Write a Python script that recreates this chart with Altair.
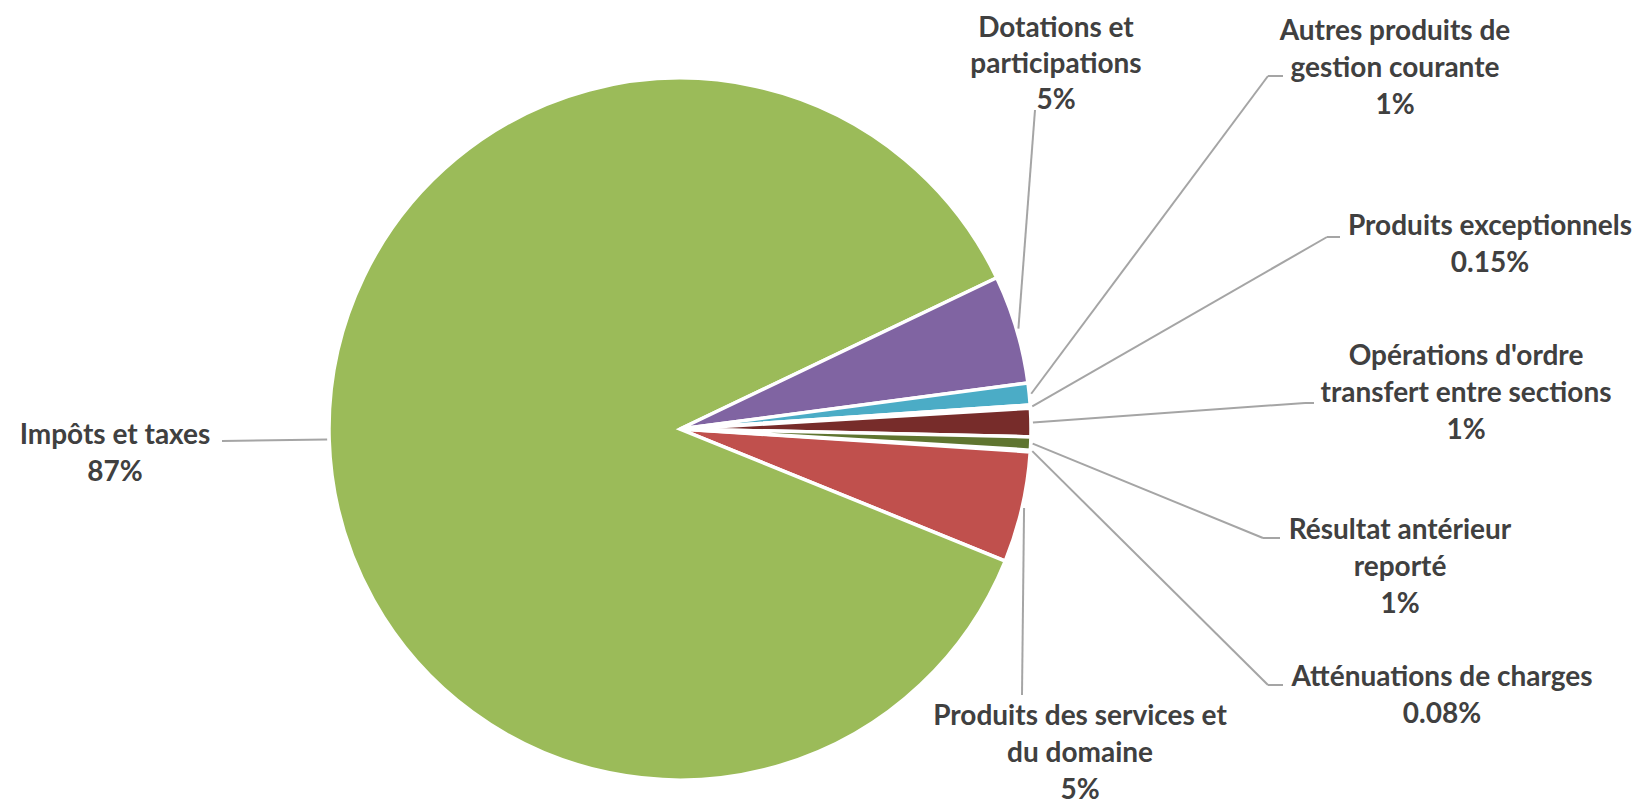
import math
import altair as alt
import pandas as pd

# ---------------- data ----------------
categories = [
    "Atténuations de charges",
    "Produits des services et du domaine",
    "Impôts et taxes",
    "Dotations et participations",
    "Autres produits de gestion courante",
    "Produits exceptionnels",
    "Opérations d'ordre transfert entre sections",
    "Résultat antérieur reporté",
]
values = [0.08, 5.1, 86.77, 5.0, 1.0, 0.15, 1.3, 0.6]
pct_labels = ["0.08%", "5%", "87%", "5%", "1%", "0.15%", "1%", "1%"]
label_lines = [
    ["Atténuations de charges"],
    ["Produits des services et", "du domaine"],
    ["Impôts et taxes"],
    ["Dotations et", "participations"],
    ["Autres produits de", "gestion courante"],
    ["Produits exceptionnels"],
    ["Opérations d'ordre", "transfert entre sections"],
    ["Résultat antérieur", "reporté"],
]
colors = ["#4F81BD", "#C0504D", "#9BBB59", "#8064A2", "#4BACC6", "#F79646", "#772C2A", "#5F7530"]

# ---------------- layout (page pixels) ----------------
W, H = 1630, 787
OFF = 8
CX, CY = 680, 429
R = 351
R_LINE = 353
START_DEG = 93.45
label_cx = [1442, 1080, 115, 1056, 1395, 1490, 1466, 1400]
label_y0 = [678, 717, 436, 29, 32, 227, 357, 531]
label_lh = [37, 37, 37, 36, 37, 37, 37, 37]
elbow_x = [1268, 1022, 222, 1035, 1268, 1327, 1305, 1263]
elbow_y = [685, 695, 441, 110, 76, 237, 403, 538]
tick_x = [1283, 1022, 222, 1035, 1283, 1340, 1314, 1280]
tick_y = [685, 695, 441, 110, 76, 237, 403, 538]

# ---------------- tables ----------------
pie_df = pd.DataFrame({"category": categories, "value": values, "idx": list(range(len(values)))})

total = sum(values)
start = math.radians(START_DEG)
seg_rows, txt_rows = [], []
cum = 0.0
for i, v in enumerate(values):
    mid = start + 2 * math.pi * (cum + v / 2) / total
    cum += v
    rx = CX + R_LINE * math.sin(mid)
    ry = CY - R_LINE * math.cos(mid)
    seg_rows.append({"x": rx, "y": ry, "x2": elbow_x[i], "y2": elbow_y[i]})
    if (tick_x[i], tick_y[i]) != (elbow_x[i], elbow_y[i]):
        seg_rows.append({"x": elbow_x[i], "y": elbow_y[i], "x2": tick_x[i], "y2": tick_y[i]})
    lines = label_lines[i] + [pct_labels[i]]
    for k, t in enumerate(lines):
        txt_rows.append({"text": t, "x": label_cx[i], "y": label_y0[i] + k * label_lh[i]})
seg_df = pd.DataFrame(seg_rows)
txt_df = pd.DataFrame(txt_rows)

xs = alt.Scale(domain=[OFF, OFF + W], nice=False, zero=False)
ys = alt.Scale(domain=[OFF, OFF + H], nice=False, zero=False, reverse=True)

pie = alt.Chart(pie_df).mark_arc(radius=R, stroke="white", strokeWidth=3.5).encode(
    theta=alt.Theta("value:Q", stack=True,
                    scale=alt.Scale(range=[start, start + 2 * math.pi])),
    color=alt.Color("category:N", scale=alt.Scale(domain=categories, range=colors), legend=None),
    order=alt.Order("idx:Q"),
    x=alt.value(CX - OFF),
    y=alt.value(CY - OFF),
)

leaders = alt.Chart(seg_df).mark_rule(color="#A5A5A5", strokeWidth=2).encode(
    x=alt.X("x:Q", scale=xs, axis=None),
    y=alt.Y("y:Q", scale=ys, axis=None),
    x2="x2:Q",
    y2="y2:Q",
)

texts = alt.Chart(txt_df).mark_text(
    font="Lato", fontSize=28, fontWeight="bold", color="#404040",
    align="center", baseline="middle",
).encode(
    x=alt.X("x:Q", scale=xs, axis=None),
    y=alt.Y("y:Q", scale=ys, axis=None),
    text="text:N",
)

chart = alt.layer(pie, leaders, texts).properties(
    width=W, height=H, padding=0, background="white"
).configure_view(stroke=None)

chart.save("out.html", embed_options={"renderer": "svg", "actions": False})
